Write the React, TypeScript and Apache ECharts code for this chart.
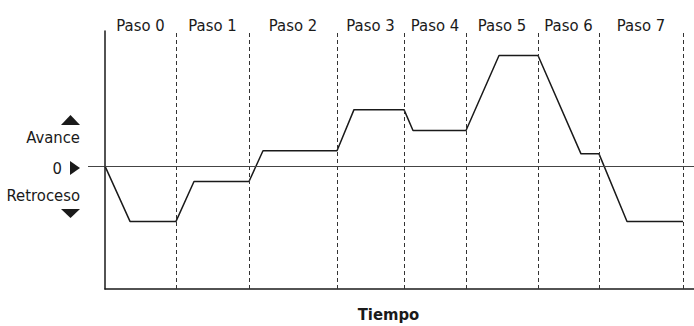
import React, { useEffect, useRef } from "react";
import * as echarts from "echarts";

// Step names shown above each interval
const stepLabels = ["Paso 0", "Paso 1", "Paso 2", "Paso 3", "Paso 4", "Paso 5", "Paso 6", "Paso 7"];
// Interval boundaries on the time axis
const stepBounds = [0, 7.1, 14.4, 23.2, 29.9, 36.1, 43.3, 49.4, 57.8];
// Position over time (advance > 0, retreat < 0)
const pathTimes = [0, 2.5, 7.1, 8.9, 14.4, 15.8, 23.2, 24.9, 29.9, 30.8, 36.1, 39.4, 43.3, 47.6, 49.4, 52.2, 57.8];
const pathValues = [0, -4.5, -4.5, -1.25, -1.25, 1.25, 1.25, 4.6, 4.6, 2.9, 2.9, 9, 9, 1, 1, -4.5, -4.5];
// Y-axis captions
const yCaptionValues = [2.35, 0, -2.4];
const yCaptionTexts = ["Avance", "0", "Retroceso"];

const FONT = '"Liberation Sans Narrow", "DejaVu Sans Condensed", "Noto Sans", sans-serif';
const INK = "#1a1a1a";

export default function App() {
  const ref = useRef<HTMLDivElement>(null);

  useEffect(() => {
    if (!ref.current) return;
    const chart = echarts.init(ref.current, null, { renderer: "svg" });

    const lineData = pathTimes.map((t, i) => [t, pathValues[i]]);

    const markLines: any[] = stepBounds.slice(1).map((b) => ({
      xAxis: b,
      lineStyle: { type: [4, 3], color: "#333", width: 1 },
    }));
    markLines.push({ yAxis: 0, lineStyle: { type: "solid", color: "#444", width: 1 } });

    const areas = stepLabels.map((name, i) => [
      { xAxis: stepBounds[i], name },
      { xAxis: stepBounds[i + 1] },
    ]);

    chart.setOption({
      animation: false,
      grid: { left: 105, right: 0, top: 31, bottom: 37, outerBoundsMode: "none", containLabel: false },
      xAxis: {
        type: "value",
        min: 0,
        max: 58.9,
        axisLine: { show: true, onZero: false, lineStyle: { color: INK, width: 1.5 } },
        axisTick: { show: false },
        axisLabel: { show: false },
        splitLine: { show: false },
        name: "Tiempo",
        nameLocation: "middle",
        nameGap: 17,
        nameTextStyle: {
          fontFamily: FONT,
          fontWeight: "bold",
          fontSize: 16.5,
          color: INK,
          padding: [0, 22, 0, 0],
        },
      },
      yAxis: {
        type: "value",
        min: -10,
        max: 11,
        axisLine: { show: true, lineStyle: { color: INK, width: 1.5 } },
        axisTick: {
          show: true,
          customValues: [0],
          length: 17,
          lineStyle: { color: "#444", width: 1 },
        },
        axisLabel: {
          show: true,
          customValues: yCaptionValues,
          margin: 25,
          formatter: (v: number) => {
            const i = yCaptionValues.indexOf(v);
            const txt = i >= 0 ? yCaptionTexts[i] : "";
            return txt === "0" ? "{z|0}" : txt;
          },
          fontFamily: FONT,
          fontSize: 16.5,
          color: INK,
          rich: {
            z: { fontFamily: FONT, fontSize: 16.5, color: INK, padding: [4, 18, 0, 0] },
          },
        },
        splitLine: { show: false },
      },
      series: [
        {
          type: "line",
          data: lineData,
          symbol: "none",
          lineStyle: { color: INK, width: 1.5 },
          silent: true,
          markLine: {
            silent: true,
            symbol: ["none", "none"],
            label: { show: false },
            data: markLines,
          },
          markArea: {
            silent: true,
            itemStyle: { color: "transparent" },
            label: {
              show: true,
              position: "top",
              distance: -3,
              formatter: (p: any) => p.name,
              fontFamily: FONT,
              fontSize: 16.5,
              color: INK,
            },
            data: areas,
          },
        },
      ],
      graphic: [
        { type: "polygon", shape: { points: [[61, 125], [80, 125], [70.5, 115]] }, style: { fill: INK } },
        { type: "polygon", shape: { points: [[70, 161], [80, 168], [70, 175]] }, style: { fill: INK } },
        { type: "polygon", shape: { points: [[61, 209], [80, 209], [70.5, 218]] }, style: { fill: INK } },
      ],
    });

    return () => chart.dispose();
  }, []);

  return (
    <div
      ref={ref}
      style={{ position: "fixed", left: 0, top: 0, width: 694, height: 326, background: "#fff" }}
    />
  );
}
